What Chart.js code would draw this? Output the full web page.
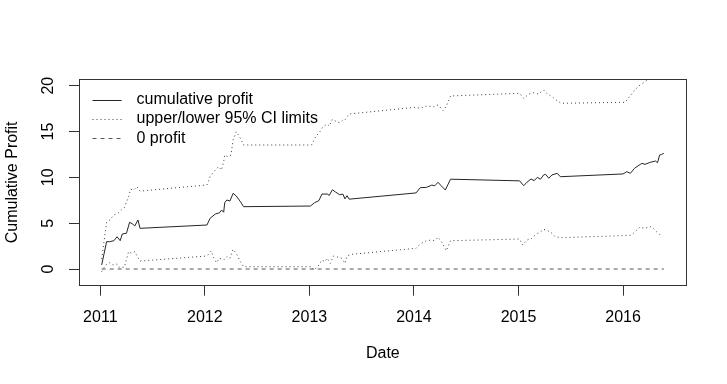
<!DOCTYPE html>
<html>
<head>
<meta charset="utf-8">
<script src="https://cdn.jsdelivr.net/npm/chart.js@4/dist/chart.umd.min.js"></script>
<style>
  html, body { margin: 0; padding: 0; background: #ffffff; }
  #wrap { width: 727px; height: 384px; }
</style>
</head>
<body>
<div id="wrap"><canvas id="c" width="727" height="384"></canvas></div>
<script>
// ---- data (decimal years) ----
const profitDates = [2011.013, 2011.06, 2011.09, 2011.13, 2011.16, 2011.19, 2011.21, 2011.25, 2011.28, 2011.31, 2011.33, 2011.36, 2011.38,
  2012.02, 2012.05, 2012.10, 2012.14, 2012.16, 2012.18, 2012.19, 2012.21, 2012.24, 2012.27, 2012.30, 2012.34, 2012.37,
  2013.01, 2013.05, 2013.09, 2013.12, 2013.17, 2013.19, 2013.22, 2013.25, 2013.29, 2013.32, 2013.34, 2013.36, 2013.38,
  2014.02, 2014.06, 2014.12, 2014.17, 2014.20, 2014.23, 2014.26, 2014.30, 2014.35,
  2015.01, 2015.05, 2015.08, 2015.12, 2015.15, 2015.18, 2015.21, 2015.24, 2015.26, 2015.29, 2015.32, 2015.37, 2015.40,
  2016.00, 2016.035, 2016.07, 2016.11, 2016.18, 2016.21, 2016.26, 2016.31, 2016.33, 2016.35, 2016.37, 2016.39];
const profitValues = [0.44, 2.98, 2.98, 3.09, 3.52, 3.09, 3.82, 3.9, 5.1, 4.9, 4.7, 5.35, 4.44,
  4.8, 5.53, 6.0, 6.14, 6.44, 6.19, 7.24, 7.53, 7.42, 8.26, 7.97, 7.35, 6.8,
  6.87, 7.24, 7.45, 8.18, 8.18, 8.04, 8.65, 8.4, 8.1, 8.18, 7.65, 8.0, 7.62,
  8.3, 8.87, 8.91, 9.15, 9.09, 9.46, 9.09, 8.62, 9.8,
  9.62, 9.09, 9.46, 9.82, 9.64, 10.0, 9.79, 10.26, 10.33, 9.9, 10.26, 10.44, 10.07,
  10.37, 10.62, 10.44, 10.99, 11.53, 11.42, 11.64, 11.78, 11.6, 12.44, 12.51, 12.62];

const upperDates = [2011.013, 2011.06, 2011.09, 2011.13, 2011.17, 2011.20, 2011.23, 2011.27, 2011.29, 2011.32, 2011.35, 2011.38,
  2012.02, 2012.05, 2012.10, 2012.13, 2012.16, 2012.18, 2012.19, 2012.22, 2012.25, 2012.27, 2012.30, 2012.34, 2012.37,
  2013.02, 2013.06, 2013.10, 2013.13, 2013.17, 2013.19, 2013.22, 2013.26, 2013.29, 2013.32, 2013.34, 2013.38,
  2014.01, 2014.06, 2014.12, 2014.19, 2014.23, 2014.28, 2014.31, 2014.35,
  2015.01, 2015.05, 2015.10, 2015.15, 2015.19, 2015.24, 2015.27, 2015.32, 2015.37, 2015.41,
  2016.02, 2016.05, 2016.10, 2016.15, 2016.19, 2016.24, 2016.29, 2016.33, 2016.37, 2016.39];
const upperValues = [1.1, 5.1, 5.35, 5.9, 6.1, 6.44, 6.7, 7.9, 8.7, 8.62, 8.98, 8.5,
  9.17, 10.07, 10.8, 11.16, 10.8, 11.71, 12.44, 12.25, 12.44, 14.08, 14.98, 14.26, 13.53,
  13.53, 14.44, 14.98, 15.53, 15.82, 15.6, 16.33, 16.07, 15.96, 16.26, 16.26, 16.91,
  17.64, 17.53, 17.78, 17.71, 17.9, 17.27, 17.78, 18.88,
  19.17, 18.62, 19.09, 19.24, 19.09, 19.53, 19.17, 18.8, 18.36, 18.08,
  18.19, 18.62, 19.35, 19.97, 20.26, 20.7, 21.0, 21.1, 20.9, 21.2];

const lowerDates = [2011.013, 2011.05, 2011.09, 2011.12, 2011.16, 2011.18, 2011.23, 2011.27, 2011.30, 2011.33, 2011.35, 2011.38,
  2012.02, 2012.06, 2012.08, 2012.11, 2012.14, 2012.18, 2012.21, 2012.24, 2012.27, 2012.30, 2012.34, 2012.37,
  2013.02, 2013.04, 2013.08, 2013.12, 2013.15, 2013.17, 2013.20, 2013.23, 2013.28, 2013.31, 2013.34, 2013.36, 2013.40,
  2014.02, 2014.06, 2014.12, 2014.17, 2014.20, 2014.23, 2014.27, 2014.31, 2014.35,
  2015.01, 2015.04, 2015.08, 2015.12, 2015.16, 2015.21, 2015.24, 2015.28, 2015.32, 2015.35, 2015.40,
  2016.00, 2016.08, 2016.115, 2016.16, 2016.21, 2016.26, 2016.29, 2016.32, 2016.35, 2016.38];
const lowerValues = [-0.29, 0.44, 0.69, 0.44, 0.55, 0.19, 0.19, 1.89, 1.71, 1.89, 1.42, 0.87,
  1.42, 1.96, 1.34, 0.69, 1.17, 0.98, 1.34, 1.17, 2.15, 1.71, 0.8, 0.25,
  0.25, -0.1, 0.25, 0.98, 0.8, 1.17, 0.62, 1.42, 1.27, 1.17, 0.62, 1.42, 1.6,
  2.26, 2.73, 3.09, 3.16, 3.09, 3.46, 2.87, 2.0, 3.09,
  3.27, 2.62, 3.16, 3.27, 3.71, 4.07, 4.33, 4.18, 3.9, 3.53, 3.42,
  3.64, 3.7, 4.07, 4.55, 4.44, 4.62, 4.44, 4.07, 3.78, 3.71];

const zeroDates = [2011.013, 2016.39];
const zeroValues = [0, 0];

const xTicks = [2011, 2012, 2013, 2014, 2015, 2016];
const yTicks = [0, 5, 10, 15, 20];
const legendLabels = ['cumulative profit', 'upper/lower 95% CI limits', '0 profit'];
const xTitle = 'Date';
const yTitle = 'Cumulative Profit';

// ---- helpers ----
const pts = (xs, ys) => xs.map((x, i) => ({ x: x, y: ys[i] }));
const FONT = '"Liberation Sans", Arial, Helvetica, sans-serif';
const SOLID = '#262626', DOTTED = '#3a3a3a', DASHED = '#555555', AXIS = '#333333';

const legendStyles = [
  { dash: [], color: SOLID },
  { dash: [1, 3], color: DOTTED },
  { dash: [4, 4], color: DASHED }
];

const rPlugin = {
  id: 'rstyle',
  afterDraw(chart) {
    const ctx = chart.ctx;
    const a = chart.chartArea;
    ctx.save();
    // plot box
    ctx.strokeStyle = AXIS;
    ctx.lineWidth = 1;
    ctx.setLineDash([]);
    ctx.strokeRect(Math.round(a.left) + 0.5, Math.round(a.top) + 0.5,
      Math.round(a.right - a.left) - 1, Math.round(a.bottom - a.top) - 1);
    // legend
    ctx.font = '16px ' + FONT;
    ctx.textBaseline = 'middle';
    ctx.textAlign = 'left';
    const x0 = 92.5, x1 = 121.5, tx = 136.5;
    legendLabels.forEach((lab, i) => {
      const y = 99.5 + i * 19.3;
      ctx.beginPath();
      ctx.setLineDash(legendStyles[i].dash);
      ctx.strokeStyle = legendStyles[i].color;
      ctx.moveTo(x0, Math.round(y) + 0.5);
      ctx.lineTo(x1, Math.round(y) + 0.5);
      ctx.stroke();
      ctx.setLineDash([]);
      ctx.fillStyle = '#000';
      ctx.fillText(lab, tx, y);
    });
    ctx.restore();
  }
};

new Chart(document.getElementById('c'), {
  type: 'line',
  data: {
    datasets: [
      { label: legendLabels[0], data: pts(profitDates, profitValues), borderColor: SOLID, borderWidth: 1, pointRadius: 0, tension: 0 },
      { label: 'upper', data: pts(upperDates, upperValues), borderColor: DOTTED, borderWidth: 1, borderDash: [1, 3], pointRadius: 0, tension: 0 },
      { label: 'lower', data: pts(lowerDates, lowerValues), borderColor: DOTTED, borderWidth: 1, borderDash: [1, 3], pointRadius: 0, tension: 0 },
      { label: legendLabels[2], data: pts(zeroDates, zeroValues), borderColor: DASHED, borderWidth: 1, borderDash: [4, 4], pointRadius: 0, tension: 0 }
    ]
  },
  options: {
    responsive: false,
    animation: false,
    devicePixelRatio: 1,
    layout: { padding: { top: 79, right: 40.3, left: 0, bottom: 0 } },
    plugins: { legend: { display: false }, tooltip: { enabled: false } },
    scales: {
      x: {
        type: 'linear',
        min: 2010.796,
        max: 2016.609,
        afterBuildTicks: (s) => { s.ticks = xTicks.map(v => ({ value: v })); },
        afterFit: (s) => { s.height = 98.3; },
        border: { display: false },
        grid: { drawOnChartArea: false, drawTicks: true, tickLength: 10, color: AXIS, lineWidth: 1 },
        ticks: { color: '#000', font: { family: FONT, size: 16 }, padding: 12, maxRotation: 0, minRotation: 0,
          callback: (v) => String(v) },
        title: { display: true, text: xTitle, color: '#000', font: { family: FONT, size: 16 }, padding: { top: 0, bottom: 21 } }
      },
      y: {
        type: 'linear',
        min: -1.82,
        max: 20.73,
        afterBuildTicks: (s) => { s.ticks = yTicks.map(v => ({ value: v })); },
        afterFit: (s) => { s.width = 79; },
        border: { display: false },
        grid: { drawOnChartArea: false, drawTicks: true, tickLength: 10, color: AXIS, lineWidth: 1 },
        ticks: { color: '#000', font: { family: FONT, size: 16 }, padding: 12, minRotation: 90, maxRotation: 90, crossAlign: 'center',
          callback: (v) => String(v) },
        title: { display: true, text: yTitle, color: '#000', font: { family: FONT, size: 16 }, padding: { top: 3, bottom: 0 } }
      }
    }
  },
  plugins: [rPlugin]
});
</script>
</body>
</html>
